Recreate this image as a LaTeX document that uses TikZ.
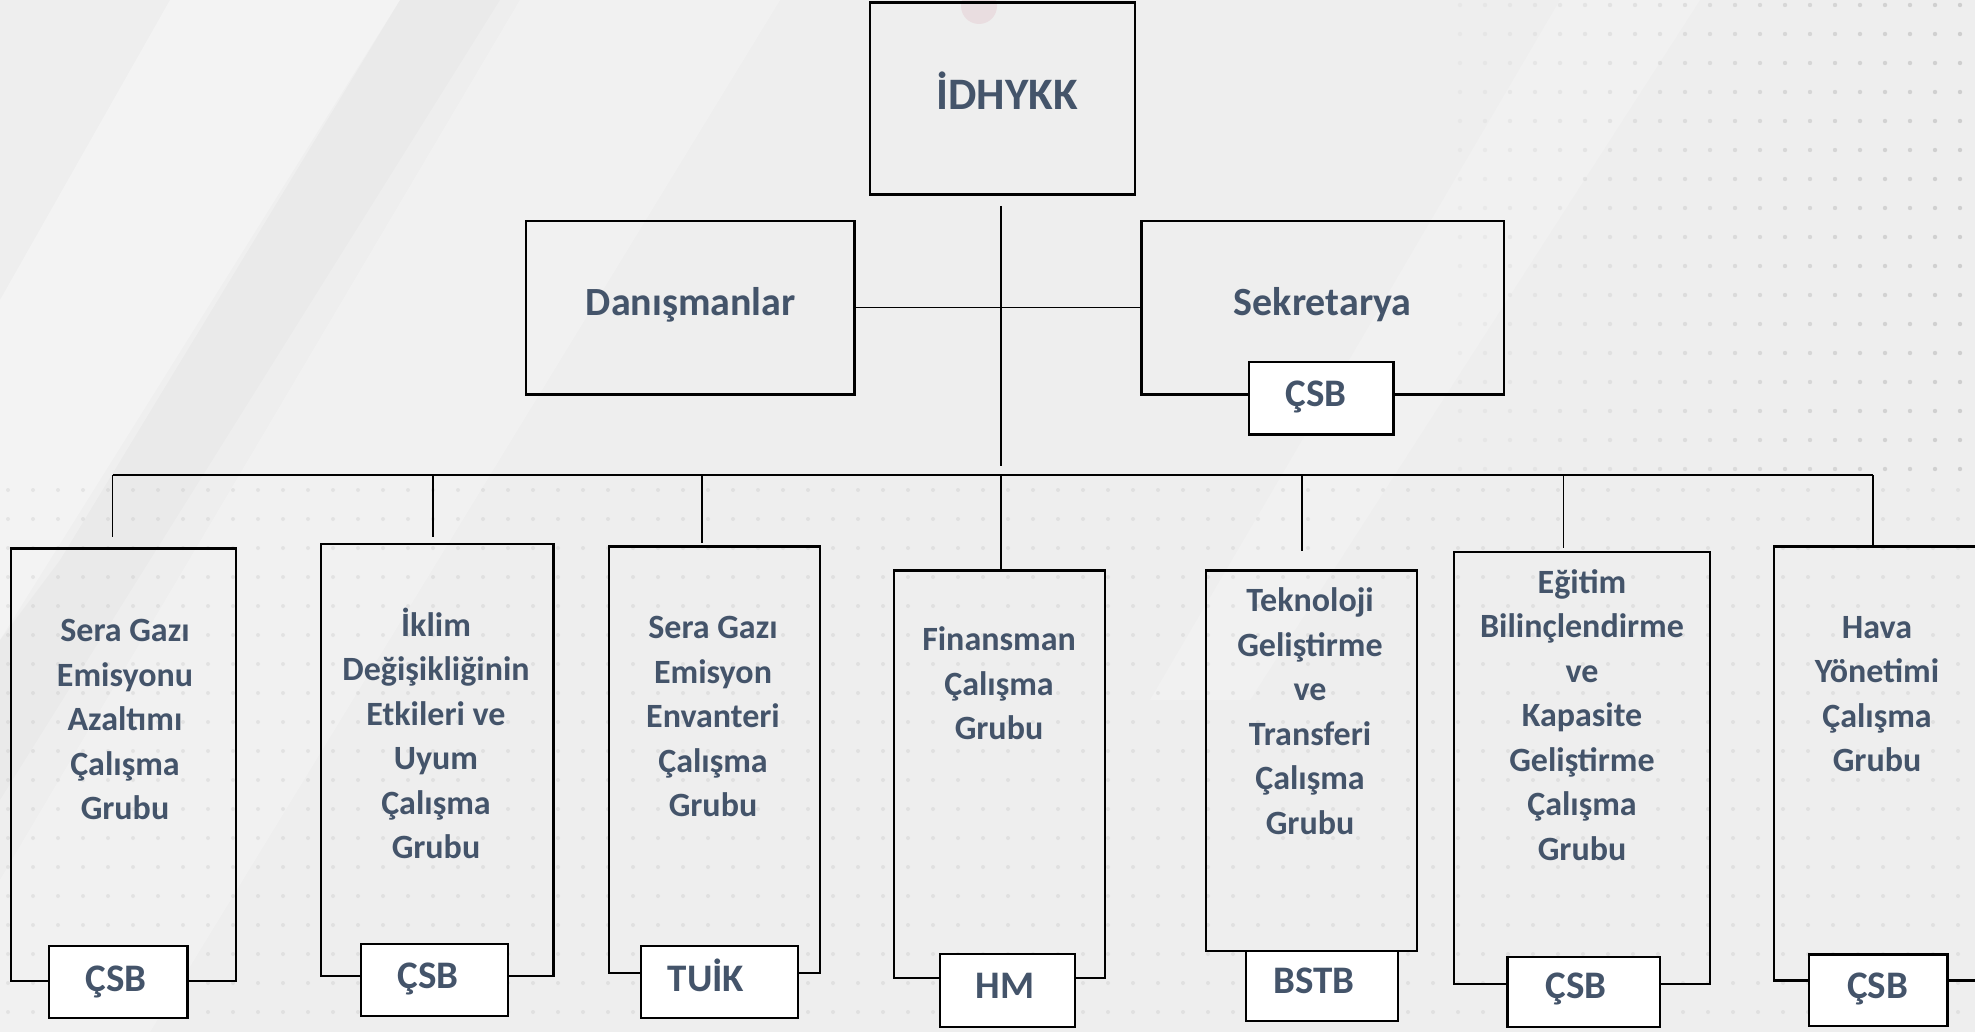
\documentclass[tikz,border=0pt]{standalone}
\usepackage{fontspec}
\setmainfont{Carlito}
\definecolor{txtc}{HTML}{44546A}
\definecolor{bgc}{HTML}{EEEEEE}
\definecolor{dotc}{HTML}{B0B0B0}
\definecolor{blobc}{HTML}{E6CDD3}
\tikzset{
  orgbox/.style={draw=black, line width=2.3pt, inner sep=0pt, rectangle},
  tabbox/.style={draw=black, fill=white, line width=2.3pt, inner sep=0pt, rectangle},
  conn/.style={draw=black, line width=1.4pt},
  boxtext/.style={text=txtc, font=\bfseries\fontsize{34}{44.5}\selectfont, align=center, inner sep=0pt, anchor=north},
  tabtext/.style={text=txtc, font=\bfseries\fontsize{39}{46}\selectfont, inner sep=0pt, anchor=base},
  midtext/.style={text=txtc, font=\bfseries\fontsize{40}{48}\selectfont, inner sep=0pt, anchor=base},
  toptext/.style={text=txtc, font=\bfseries\fontsize{45}{54}\selectfont, inner sep=0pt, anchor=base},
}
\begin{document}
\begin{tikzpicture}[x=1pt,y=-1pt]
\useasboundingbox (0,0) rectangle (1975,1032);
\clip (0,0) rectangle (1975,1032);
% background
\fill[bgc] (0,0) rectangle (1975,1032);
\fill[white, opacity=0.3] (170,0) -- (400,0) -- (60,560) -- (0,640) -- (0,300) -- cycle;
\fill[black, opacity=0.015] (400,0) -- (500,0) -- (0,800) -- (0,640) -- cycle;
\fill[white, opacity=0.22] (520,0) -- (780,0) -- (150,1032) -- (0,1032) -- (0,880) -- cycle;
\fill[white, opacity=0.18] (1560,0) -- (1700,0) -- (1250,700) -- (1150,700) -- cycle;
% dots upper right
\foreach \i in {0,...,20}{
  \pgfmathsetmacro\op{0.10+0.02*\i}
  \foreach \j in {0,...,16}{
    \fill[dotc, opacity=\op] ({1460+25*\i},{5+29*\j}) circle (2.2);
  }
}
% dots lower area
\foreach \i in {0,...,79}{
  \foreach \j in {0,...,18}{
    \fill[dotc, opacity=0.22] ({8+25*\i},{490+29*\j}) circle (2);
  }
}
\fill[blobc, opacity=0.5] (979,6) circle (18);

% top level
\node[orgbox, minimum width=265, minimum height=192] (idh) at (1002.5,98.5) {};
\node[orgbox, minimum width=328.5, minimum height=173.5] (dan) at (690.25,307.75) {};
\node[orgbox, minimum width=362.5, minimum height=173.5] (sek) at (1322.75,307.75) {};
\node[tabbox, minimum width=144.5, minimum height=72.5] (sektab) at (1321.25,398.25) {};

\node[toptext] (idhlbl) at (1007,110) {İDHYKK};
\node[midtext] (danlbl) at (690.7,315) {Danışmanlar};
\node[midtext] (seklbl) at (1322.7,315) {Sekretarya};
\node[tabtext] (sektablbl) at (1316,406.7) {ÇSB};

% connectors
\coordinate (vtop) at (1001,206);
\coordinate (vbot) at (1001,466);
\draw[conn] (vtop) -- (vbot);
\draw[conn] (dan.east) -- (sek.west);
\coordinate (busL) at (112.5,475);
\coordinate (busR) at (1873,475);
\draw[conn] (busL) -- (busR);
\foreach \n/\x/\y in {1/112.5/537, 2/433/537, 3/702/543, 4/1001/570.5, 5/1302/551, 6/1563.5/547.6, 7/1873/547}{
  \coordinate (dtop\n) at (\x,475);
  \coordinate (dend\n) at (\x,\y);
  \draw[conn] (dtop\n) -- (dend\n);
}

% working group boxes
\node[orgbox, minimum width=225, minimum height=432.4] (b1) at (123.5,764.8) {};
\node[orgbox, minimum width=232.6, minimum height=432] (b2) at (437.3,760) {};
\node[orgbox, minimum width=211, minimum height=426.5] (b3) at (714.5,759.75) {};
\node[orgbox, minimum width=211, minimum height=407.5] (b4) at (999.5,774.25) {};
\node[orgbox, minimum width=211, minimum height=380.5] (b5) at (1311.5,760.75) {};
\node[orgbox, minimum width=256, minimum height=432] (b6) at (1582,768) {};
\node[orgbox, minimum width=211, minimum height=434] (b7) at (1879.5,763.5) {};

% tabs
\node[tabbox, minimum width=138.5, minimum height=72] (t1) at (118.25,982) {};
\node[tabbox, minimum width=147, minimum height=72] (t2) at (434.15,980) {};
\node[tabbox, minimum width=157, minimum height=72] (t3) at (719.5,982) {};
\node[tabbox, minimum width=135, minimum height=73] (t4) at (1007.5,990.5) {};
\node[tabbox, minimum width=152, minimum height=70] (t5) at (1322,986) {};
\node[tabbox, minimum width=152.5, minimum height=70] (t6) at (1583.75,992) {};
\node[tabbox, minimum width=138.5, minimum height=71.5] (t7) at (1878.25,990.25) {};

\node[tabtext] (t1lbl) at (116,991) {ÇSB};
\node[tabtext] (t2lbl) at (428,988) {ÇSB};
\node[tabtext] (t3lbl) at (706,991) {TUİK};
\node[tabtext] (t4lbl) at (1005,998) {HM};
\node[tabtext] (t5lbl) at (1314,993.4) {BSTB};
\node[tabtext] (t6lbl) at (1576,998) {ÇSB};
\node[tabtext] (t7lbl) at (1877.5,998) {ÇSB};

% box texts
\node[boxtext] (b1lbl) at (125,610.2) {\strut Sera Gazı\\Emisyonu\\Azaltımı\\Çalışma\\Grubu};
\node[boxtext] (b2lbl) at (436,605.0) {\strut İklim\\Değişikliğinin\\Etkileri ve\\Uyum\\Çalışma\\Grubu};
\node[boxtext] (b3lbl) at (713,607.6) {\strut Sera Gazı\\Emisyon\\Envanteri\\Çalışma\\Grubu};
\node[boxtext] (b4lbl) at (999,619.2) {\strut Finansman\\Çalışma\\Grubu};
\node[boxtext] (b5lbl) at (1310,580.2) {\strut Teknoloji\\Geliştirme\\ve\\Transferi\\Çalışma\\Grubu};
\node[boxtext] (b6lbl) at (1582,562.0) {\strut Eğitim\\Bilinçlendirme\\ve\\Kapasite\\Geliştirme\\Çalışma\\Grubu};
\node[boxtext] (b7lbl) at (1877,606.8) {\strut Hava\\Yönetimi\\Çalışma\\Grubu};
\end{tikzpicture}
\end{document}
